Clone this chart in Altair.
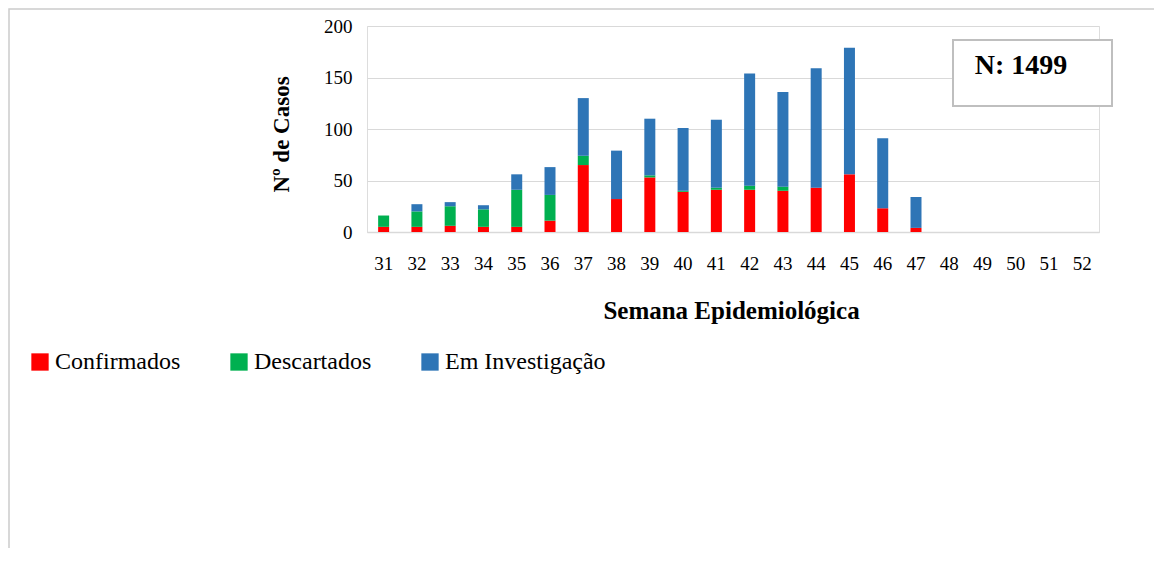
import altair as alt
import pandas as pd

weeks_all = [str(w) for w in range(31, 53)]
weeks = [str(w) for w in range(31, 48)]
confirmados = [5, 5, 6, 5, 5, 11, 65, 32, 53, 39, 41, 41, 40, 43, 56, 23, 4]
descartados = [11, 15, 19, 17, 36, 25, 9, 0, 2, 1, 2, 4, 4, 0, 0, 0, 0]
investigacao = [0, 7, 4, 4, 15, 27, 56, 47, 55, 61, 66, 109, 92, 116, 123, 68, 30]
series = ["Confirmados", "Descartados", "Em Investigação"]
colors = ["#FF0000", "#00B050", "#2E75B6"]
y_ticks = [0, 50, 100, 150, 200]

rows = []
for i, w in enumerate(weeks):
    for k, (name, vals) in enumerate(zip(series, [confirmados, descartados, investigacao])):
        rows.append({"week": w, "serie": name, "casos": vals[i], "ord": k})
df = pd.DataFrame(rows)
total = sum(confirmados) + sum(descartados) + sum(investigacao)

FONT = "Liberation Serif"
W, H = 732, 206

border = alt.Chart(pd.DataFrame({"a": [0]})).mark_rect(
    fill="white", fillOpacity=0, stroke="#cccccc", strokeWidth=1.5
).encode(
    x=alt.value(-358), x2=alt.value(1300), y=alt.value(-17), y2=alt.value(700)
)

bars = alt.Chart(df).mark_bar(size=11).encode(
    x=alt.X("week:O", scale=alt.Scale(domain=weeks_all),
            axis=alt.Axis(title="Semana Epidemiológica", labelAngle=0, ticks=False,
                          labelPadding=22, labelFontSize=19, labelFont=FONT,
                          labelColor="#000000", domainColor="#d9d9d9", domainWidth=1.5,
                          titleFont=FONT, titleFontSize=25, titleFontWeight="bold",
                          titleColor="#000000", titleX=364, titleY=78,
                          titleBaseline="middle", titleAlign="center", grid=False)),
    y=alt.Y("sum(casos):Q", stack="zero", scale=alt.Scale(domain=[0, 200], nice=False),
            axis=alt.Axis(title="Nº de Casos", values=y_ticks, ticks=False, domain=False,
                          labelPadding=15, labelFontSize=19, labelFont=FONT,
                          labelColor="#000000", gridColor="#d9d9d9", gridWidth=1,
                          titleFont=FONT, titleFontSize=23, titleFontWeight="bold",
                          titleColor="#000000", titleAngle=270, titleX=-86, titleY=108,
                          titleBaseline="middle", titleAlign="center")),
    color=alt.Color("serie:N", scale=alt.Scale(domain=series, range=colors),
                    legend=alt.Legend(title=None, orient="none", legendX=-339, legendY=324,
                                      direction="horizontal", symbolType="square",
                                      symbolSize=300, symbolStrokeWidth=0,
                                      labelFont=FONT, labelFontSize=24, labelColor="#000000",
                                      labelOffset=3, columnPadding=46, labelLimit=400)),
    order=alt.Order("ord:Q"),
)

nbox = alt.Chart(pd.DataFrame({"a": [0]})).mark_rect(
    fill="white", stroke="#bfbfbf", strokeWidth=2
).encode(x=alt.value(586), x2=alt.value(745), y=alt.value(14), y2=alt.value(80))

ntext = alt.Chart(pd.DataFrame({"t": [f"N: {total}"]})).mark_text(
    font=FONT, fontSize=28, fontWeight="bold", color="#000000",
    align="center", baseline="middle"
).encode(text="t:N", x=alt.value(654), y=alt.value(40))

chart = alt.layer(border, bars, nbox, ntext).properties(
    width=W, height=H,
    autosize=alt.AutoSizeParams(type="none"),
    padding={"left": 359, "top": 18, "right": 55, "bottom": 316},
).configure_view(stroke=None).configure(background="white")

chart.save("out.html", embed_options={"renderer": "svg", "actions": False})
